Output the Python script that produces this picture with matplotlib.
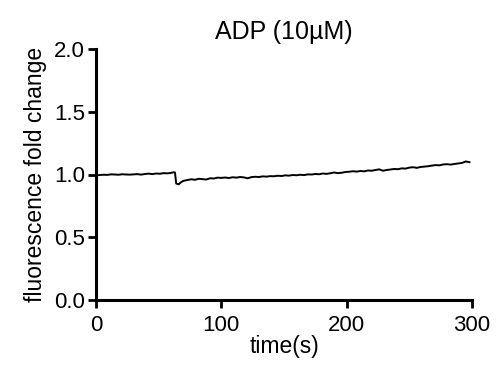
import matplotlib
matplotlib.use("Agg")
import matplotlib.pyplot as plt

plt.rcParams['font.family'] = ['Liberation Sans', 'DejaVu Sans']

time_s = [0, 3, 6, 9, 12, 15, 18, 21, 24, 27, 30, 33, 36, 39, 42, 45, 48, 51, 54, 57, 60,
          62, 63, 64, 66, 68, 70, 73, 76, 79, 82, 85, 88, 91, 94, 97, 100, 103, 106, 109,
          112, 115, 118, 121, 124, 127, 130, 133, 136, 139, 142, 145, 148, 151, 154, 157,
          160, 163, 166, 169, 172, 175, 178, 181, 184, 187, 190, 193, 196, 199, 202, 205,
          208, 211, 214, 217, 220, 223, 226, 229, 232, 235, 238, 241, 244, 247, 250, 253,
          256, 259, 262, 265, 268, 271, 274, 277, 280, 283, 286, 289, 292, 295, 298]
fold_change = [0.993, 0.996, 0.998, 0.997, 1.001, 1.000, 0.998, 1.002, 1.000, 0.999,
               1.001, 1.003, 0.999, 1.004, 1.007, 1.003, 1.008, 1.006, 1.011, 1.009,
               1.013, 1.018, 1.016, 0.928, 0.922, 0.940, 0.950, 0.956, 0.962, 0.958,
               0.966, 0.963, 0.960, 0.970, 0.968, 0.975, 0.973, 0.976, 0.972, 0.978,
               0.975, 0.980, 0.977, 0.970, 0.979, 0.982, 0.980, 0.985, 0.983, 0.987,
               0.986, 0.990, 0.988, 0.993, 0.991, 0.996, 0.994, 0.998, 0.995, 1.001,
               1.000, 1.004, 1.002, 1.008, 1.005, 1.010, 1.016, 1.011, 1.014, 1.020,
               1.022, 1.026, 1.023, 1.028, 1.025, 1.032, 1.030, 1.036, 1.041, 1.030,
               1.036, 1.040, 1.044, 1.042, 1.049, 1.047, 1.055, 1.058, 1.053, 1.060,
               1.063, 1.066, 1.071, 1.075, 1.073, 1.080, 1.082, 1.079, 1.084, 1.088,
               1.092, 1.104, 1.098]

x_ticks = [0, 100, 200, 300]
y_ticks = [0.0, 0.5, 1.0, 1.5, 2.0]
y_tick_labels = ["0.0", "0.5", "1.0", "1.5", "2.0"]

fig = plt.figure(figsize=(4.98, 3.65), dpi=100)
ax = fig.add_axes([96/498, 1-300/365, (472-96)/498, (300-49)/365])
ax.plot(time_s, fold_change, color='black', lw=1.4)
ax.set_xlim(0, 300)
ax.set_ylim(0, 2.0)
ax.set_xticks(x_ticks)
ax.set_yticks(y_ticks)
ax.set_yticklabels(y_tick_labels)
for s in ['top', 'right']:
    ax.spines[s].set_visible(False)
for s in ['left', 'bottom']:
    ax.spines[s].set_linewidth(2.2)
ax.tick_params(axis='both', direction='out', length=6, width=2, labelsize=16)
ax.tick_params(axis='x', pad=5)
ax.tick_params(axis='y', pad=2)
ax.set_title('ADP (10µM)', fontsize=18, pad=7)
ax.set_xlabel('time(s)', fontsize=16.5, labelpad=-1)
ax.set_ylabel('fluorescence fold change', fontsize=16.5, labelpad=5)
fig.savefig('out.png', dpi=100)
